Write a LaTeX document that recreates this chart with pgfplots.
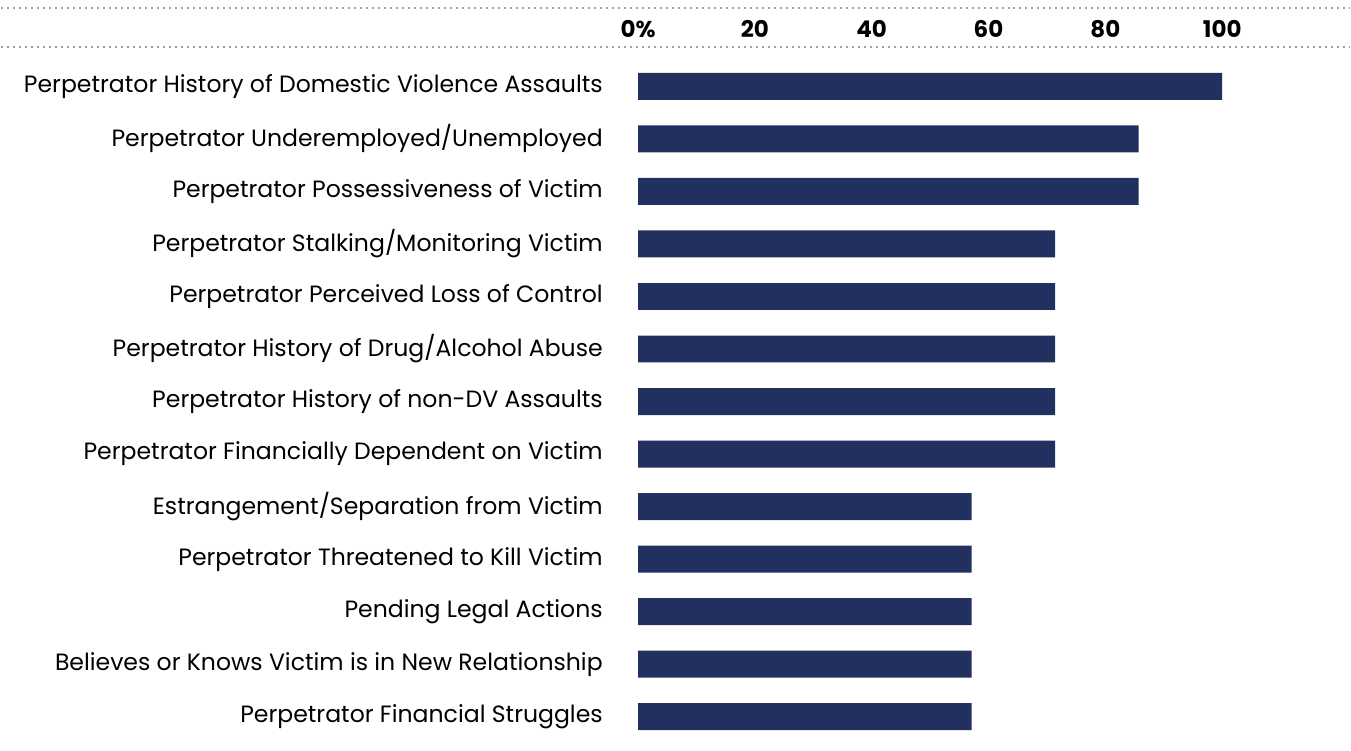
\documentclass[border=0pt]{standalone}
\usepackage{pgfplots}
\pgfplotsset{compat=1.18}
\usepackage{fontspec}
\setmainfont{Poppins}
\definecolor{barblue}{HTML}{22305F}
\definecolor{dotgrey}{HTML}{A0A0A0}

\begin{document}
\begin{tikzpicture}
\begin{axis}[
  x=2.925pt, y=26.3pt, y dir=reverse,
  xmin=0, xmax=121.88,
  ymin=-0.751, ymax=12.646,
  axis line style={draw=none},
  major tick length=0pt,
  clip=false,
  xbar, bar width=13.5pt,
  xtick={0,20,...,100},
  xticklabels={0\%,20,40,60,80,100},
  xticklabel pos=upper,
  xticklabel style={font=\fontsize{11.5}{13}\selectfont\bfseries, anchor=south, inner sep=0pt, yshift=4.5pt},
  ytick={0,...,12},
  yticklabels={
    Perpetrator History of Domestic Violence Assaults,
    Perpetrator Underemployed/Unemployed,
    Perpetrator Possessiveness of Victim,
    Perpetrator Stalking/Monitoring Victim,
    Perpetrator Perceived Loss of Control,
    Perpetrator History of Drug/Alcohol Abuse,
    Perpetrator History of non-DV Assaults,
    Perpetrator Financially Dependent on Victim,
    Estrangement/Separation from Victim,
    Perpetrator Threatened to Kill Victim,
    Pending Legal Actions,
    Believes or Knows Victim is in New Relationship,
    Perpetrator Financial Struggles},
  yticklabel style={font=\fontsize{11.8}{14}\selectfont, anchor=east, inner sep=0pt, xshift=-17.5pt},
  /pgf/number format/assume math mode=true,
]
\addplot[fill=barblue, draw=none] coordinates {
  (100,0) (85.7,1) (85.7,2) (71.4,3) (71.4,4) (71.4,5) (71.4,6)
  (71.4,7) (57.1,8) (57.1,9) (57.1,10) (57.1,11) (57.1,12)};
\draw[dotgrey, dotted, line width=1pt] (axis cs:-109.06,-1.492) -- (axis cs:121.88,-1.492);
\draw[dotgrey, dotted, line width=1pt] (axis cs:-109.06,-0.751) -- (axis cs:121.88,-0.751);
\path (axis cs:-109.06,-1.645) rectangle (axis cs:121.88,12.646);
\end{axis}
\end{tikzpicture}
\end{document}
